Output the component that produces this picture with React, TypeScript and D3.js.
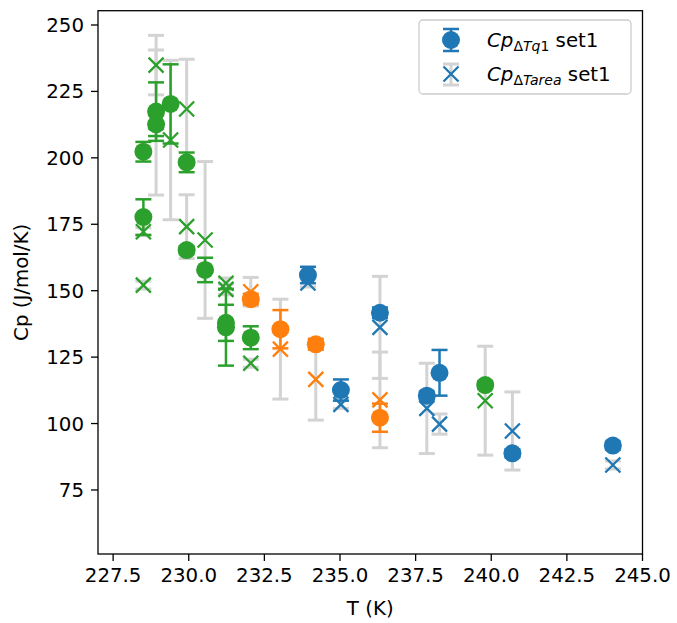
import React from "react";
import { scaleLinear, range } from "d3";

// set1 (blue)
const blueT = [233.94, 235.03, 236.32, 237.87, 238.29, 240.7, 244.02];
const blueCp = [155.9, 112.6, 141.7, 110.5, 119.1, 88.8, 91.7];
const blueCpErr = [3.1, 4, 2, 1.5, 8.6, 1.5, 1.5];
const blueArea = [152.9, 107.2, 136.2, 105.7, 99.8, 97.2, 84.4];
const blueAreaErr = [1.5, 1.5, 19.2, 17, 3.8, 14.7, 1.5];

// set2 (orange)
const orangeT = [232.05, 233.03, 234.2, 236.32];
const orangeCp = [146.8, 135.5, 129.8, 102.2];
const orangeCpErr = [2, 7.2, 2, 5.3];
const orangeArea = [149.6, 128.0, 116.6, 108.9];
const orangeAreaErr = [5.4, 18.8, 15.3, 18];

// set3 (green)
const greenT = [228.5, 228.5, 228.92, 228.92, 229.4, 229.93, 229.93, 230.54, 231.23, 231.23, 232.05, 239.8];
const greenCp = [202.3, 177.7, 217.4, 212.6, 220.3, 198.3, 165.3, 157.8, 137.9, 136.2, 132.3, 114.5];
const greenCpErr = [3.7, 6.7, 11, 4.4, 14.9, 3.7, 1.5, 4.6, 6.8, 14.4, 4.3, 1.5];
const greenArea = [152.1, 172.2, 234.9, 213.3, 206.7, 218.4, 174.1, 169.1, 152.8, 150.5, 122.7, 108.6];
const greenAreaErr = [1.5, 1.5, 11.2, 27.3, 30, 18.7, 12, 29.5, 2, 2, 1.5, 20.5];

const xTicks = range(227.5, 245.01, 2.5);
const yTicks = range(75, 250.01, 25);

const sets = [
  { t: blueT, cp: blueCp, cpErr: blueCpErr, area: blueArea, areaErr: blueAreaErr, color: "#1f77b4" },
  { t: orangeT, cp: orangeCp, cpErr: orangeCpErr, area: orangeArea, areaErr: orangeAreaErr, color: "#ff7f0e" },
  { t: greenT, cp: greenCp, cpErr: greenCpErr, area: greenArea, areaErr: greenAreaErr, color: "#2ca02c" },
];

const W = 677;
const H = 623;
const left = 98, right = 642.5, top = 10.7, bottom = 554;
const grey = "#d3d3d3";
const FS = 19.8;

function ErrBar({ x, y0, y1, color, width }) {
  const cap = 8;
  return (
    <g stroke={color} strokeWidth={width}>
      <line x1={x} x2={x} y1={y0} y2={y1} />
      <line x1={x - cap} x2={x + cap} y1={y0} y2={y0} />
      <line x1={x - cap} x2={x + cap} y1={y1} y2={y1} />
    </g>
  );
}

function XMark({ x, y, color }) {
  const s = 7.5;
  return (
    <path
      d={`M${x - s},${y - s}L${x + s},${y + s}M${x - s},${y + s}L${x + s},${y - s}`}
      stroke={color}
      strokeWidth={2.3}
      fill="none"
    />
  );
}

export default function App() {
  const x = scaleLinear().domain([227.0, 245.0]).range([left, right]);
  const y = scaleLinear().domain([50.9, 255.38]).range([bottom, top]);

  return (
    <svg
      width={W}
      height={H}
      style={{ position: "absolute", left: 0, top: 0, background: "#fff" }}
      fontFamily="DejaVu Sans"
    >
      {/* grey error bars of the area-based values */}
      {sets.map((s, si) =>
        s.t.map((t, i) => (
          <ErrBar
            key={`ga${si}-${i}`}
            x={x(t)}
            y0={y(s.area[i] + s.areaErr[i])}
            y1={y(s.area[i] - s.areaErr[i])}
            color={grey}
            width={3}
          />
        ))
      )}
      {sets.map((s, si) => (
        <g key={`set${si}`}>
          {s.t.map((t, i) => (
            <ErrBar
              key={`e${i}`}
              x={x(t)}
              y0={y(s.cp[i] + s.cpErr[i])}
              y1={y(s.cp[i] - s.cpErr[i])}
              color={s.color}
              width={2.5}
            />
          ))}
          {s.t.map((t, i) => (
            <circle key={`c${i}`} cx={x(t)} cy={y(s.cp[i])} r={9} fill={s.color} />
          ))}
          {s.t.map((t, i) => (
            <XMark key={`x${i}`} x={x(t)} y={y(s.area[i])} color={s.color} />
          ))}
        </g>
      ))}

      {/* frame */}
      <rect x={left} y={top} width={right - left} height={bottom - top} fill="none" stroke="#000" strokeWidth={1.3} />

      {/* x axis */}
      {xTicks.map((t) => (
        <g key={`xt${t}`}>
          <line x1={x(t)} x2={x(t)} y1={bottom} y2={bottom + 7} stroke="#000" strokeWidth={1.3} />
          <text x={x(t)} y={bottom + 28} fontSize={FS} textAnchor="middle" fill="#000">
            {t.toFixed(1)}
          </text>
        </g>
      ))}
      <text x={(left + right) / 2} y={615} fontSize={FS} textAnchor="middle">
        T (K)
      </text>

      {/* y axis */}
      {yTicks.map((v) => (
        <g key={`yt${v}`}>
          <line x1={left - 7} x2={left} y1={y(v)} y2={y(v)} stroke="#000" strokeWidth={1.3} />
          <text x={84} y={y(v) + 7} fontSize={FS} textAnchor="end" fill="#000">
            {v}
          </text>
        </g>
      ))}
      <text
        transform={`translate(28,${(top + bottom) / 2}) rotate(-90)`}
        fontSize={FS}
        textAnchor="middle"
      >
        Cp (J/mol/K)
      </text>

      {/* legend */}
      <g>
        <rect x={419} y={20} width={212} height={74} rx={4} fill="#fff" fillOpacity={0.8} stroke="#cccccc" strokeWidth={1.3} />
        <ErrBar x={451} y0={29} y1={51} color="#1f77b4" width={2.5} />
        <circle cx={451} cy={40} r={9} fill="#1f77b4" />
        <text x={487} y={47} fontSize={FS}>
          <tspan fontStyle="italic">Cp</tspan>
          <tspan fontSize={14} dy={4}>Δ</tspan>
          <tspan fontSize={14} fontStyle="italic">Tq</tspan>
          <tspan fontSize={14}>1</tspan>
          <tspan dy={-4}> set1</tspan>
        </text>
        <ErrBar x={451} y0={64} y1={85} color={grey} width={3} />
        <XMark x={451} y={74} color="#1f77b4" />
        <text x={487} y={81} fontSize={FS}>
          <tspan fontStyle="italic">Cp</tspan>
          <tspan fontSize={14} dy={4}>Δ</tspan>
          <tspan fontSize={14} fontStyle="italic">Tarea</tspan>
          <tspan dy={-4}> set1</tspan>
        </text>
      </g>
    </svg>
  );
}
